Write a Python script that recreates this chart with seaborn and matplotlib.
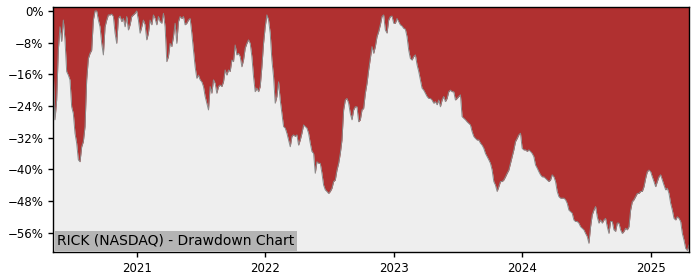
import numpy as np
import pandas as pd
import matplotlib
matplotlib.use("Agg")
import matplotlib.pyplot as plt
import matplotlib.ticker as mticker
import seaborn as sns

start_date = "2020-05-09"
end_date = "2025-04-19"
title_label = "RICK (NASDAQ) - Drawdown Chart"
year_ticks = ["2021", "2022", "2023", "2024", "2025"]
y_ticks = [0, -8, -16, -24, -32, -40, -48, -56]

dd_2020 = [-15.3, -27.5, -22.5, -9.9, -4.0, -7.7, -2.3, -7.3, -15.3, -16.2,
           -17.4, -24.2, -25.9, -30.9, -33.4, -37.6, -38.1, -34.3, -33.0, -29.2,
           -17.4, -12.0, -10.7, -9.9, -2.3, 0.0, 0.0, -2.3, -4.0, -8.2,
           -11.1, -4.0, -2.3, -1.0, -1.0, -0.8, -1.4, -5.6, -8.2, -1.9,
           -1.3, -2.7, -1.9, -4.0, -1.4, -4.8, -3.5, -1.4, -1.0, -0.6,
           0.0, -2.3, -5.6, -4.0, -2.3, -3.5, -7.3, -5.6, -2.3, -3.5,
           -1.0, -1.9, -3.5, -1.4, -2.7, -3.1, -0.6, -4.0, -12.8, -11.5]
dd_2021 = [-8.2, -9.0, -6.5, -3.1, -8.2, -2.7, -1.4, -1.9, -1.4, -3.5,
           -3.1, -2.3, -1.9, -5.6, -9.9, -14.1, -17.0, -16.2, -17.4, -17.9,
           -19.1, -21.6, -23.3, -25.0, -19.1, -20.8, -17.4, -18.3, -20.8, -19.1,
           -18.7, -19.1, -17.9, -14.9, -16.2, -14.9, -15.3, -12.4, -12.8, -8.6,
           -11.1, -10.7, -11.5, -14.1, -12.4, -9.4, -8.2, -7.3, -8.2, -11.5,
           -16.6, -20.4, -19.5, -20.4, -19.1, -14.1, -8.2, -4.0, -1.0, -2.3,
           -5.6, -12.4, -16.6, -23.3, -21.6, -17.9, -22.5, -25.9, -29.2, -29.6,
           -30.9, -32.6, -34.3, -31.7, -31.3, -31.7, -31.3, -33.9]
dd_2022 = [-32.6, -30.9, -28.8, -29.2, -29.6, -30.9, -33.4, -35.5, -36.0, -41.0,
           -38.1, -38.5, -38.5, -41.0, -44.0, -45.2, -45.6, -46.1, -45.6, -44.8,
           -43.1, -42.7, -40.2, -38.5, -36.0, -32.6, -25.0, -22.5, -22.1, -23.3,
           -25.9, -27.5, -25.0, -24.2, -24.2, -28.0, -27.5, -25.0, -24.6, -20.8,
           -18.3, -14.9, -12.0, -9.0, -10.7, -9.0, -6.5, -5.2, -3.5, -1.4,
           -1.0, -4.8, -5.6, -2.3, -1.4, -1.3, -3.1, -3.1, -1.9, -2.7,
           -3.5, -3.8, -4.4, -4.6, -6.5, -9.9, -12.0, -12.4, -11.5, -11.1,
           -13.6, -15.3, -17.4, -19.5, -20.0, -20.8, -21.6, -22.1]
dd_2023 = [-22.1, -22.5, -23.3, -22.9, -23.7, -22.5, -24.2, -22.5, -21.6, -22.9,
           -22.1, -20.4, -20.0, -20.4, -20.4, -22.5, -22.1, -21.6, -21.2, -26.7,
           -27.1, -27.5, -28.0, -28.4, -28.8, -30.5, -31.7, -32.2, -32.6, -32.6,
           -33.4, -33.9, -34.7, -36.0, -36.8, -37.6, -38.5, -40.2, -43.1, -44.0,
           -45.6, -44.4, -43.1, -43.1, -42.7, -41.9, -41.0, -40.2, -38.5, -36.8,
           -35.1, -33.0, -32.2, -31.3, -30.9, -34.7, -35.1, -35.1, -35.5, -35.1,
           -35.5, -36.0, -36.8, -38.9, -39.7, -40.6, -41.4, -41.9, -41.9, -42.3,
           -42.7, -43.1, -42.7, -41.4, -41.9, -43.1, -45.6, -46.9]
dd_2024 = [-47.3, -47.3, -47.3, -47.7, -48.6, -50.3, -50.7, -51.1, -52.8, -53.2,
           -53.2, -53.6, -54.5, -54.9, -55.3, -56.2, -57.0, -58.7, -54.5, -51.5,
           -50.3, -49.4, -52.0, -53.6, -52.8, -53.6, -52.8, -52.4, -54.5, -56.2,
           -53.2, -53.2, -55.3, -55.7, -53.6, -53.6, -55.3, -56.2, -55.7, -54.9,
           -55.3, -54.5, -50.3, -48.2, -47.7, -46.9, -46.1, -46.1, -45.6, -45.6,
           -44.4, -42.3, -40.6, -40.2, -40.6, -41.9, -43.1, -44.4, -43.1, -41.9,
           -41.4, -42.7, -44.0, -45.2, -44.8, -46.1, -48.6, -50.3, -52.4, -52.8,
           -52.0, -52.4, -53.2, -56.2, -57.9, -60.0, -60.5, -59.1]

drawdown = dd_2020 + dd_2021 + dd_2022 + dd_2023 + dd_2024
dates = pd.date_range(start_date, end_date, periods=len(drawdown))
df = pd.DataFrame({"date": dates, "drawdown": drawdown})

sns.set_style("ticks")
plt.rcParams["font.family"] = ["DejaVu Sans"]

fig = plt.figure(figsize=(7, 2.8), dpi=100)
ax = fig.add_axes([53.3 / 700, 1 - 252 / 280, (689.0 - 53.3) / 700, (252 - 7) / 280])
ax.set_facecolor("#eeeeee")

y_top, y_bottom = 1.0, -60.9
ax.fill_between(df["date"], df["drawdown"], y_top, color="#b03030", linewidth=0)
sns.lineplot(data=df, x="date", y="drawdown", ax=ax, color="#8a8a8a", linewidth=0.7)

ax.set_xlim(df["date"].iloc[0], df["date"].iloc[-1])
ax.set_ylim(y_bottom, y_top)
ax.set_yticks(y_ticks)
ax.yaxis.set_major_formatter(mticker.FuncFormatter(
    lambda v, p: ("\u2212" if v < 0 else "") + f"{abs(int(round(v)))}%"))
ax.set_xticks([pd.Timestamp(f"{y}-01-01") for y in year_ticks])
ax.set_xticklabels(year_ticks)
ax.tick_params(axis="both", labelsize=8.5, length=3.5, width=1,
               color="black", labelcolor="black")
ax.set_xlabel("")
ax.set_ylabel("")
for s in ax.spines.values():
    s.set_visible(True)
    s.set_color("black")
    s.set_linewidth(1.0)

ax.annotate(title_label, xy=(0, 0), xycoords="axes fraction",
            xytext=(4, 4), textcoords="offset pixels", fontsize=10,
            ha="left", va="bottom", color="black",
            bbox=dict(boxstyle="square,pad=0.2", fc="#b4b4b4", ec="none"))

fig.savefig("out.png", dpi=100)
